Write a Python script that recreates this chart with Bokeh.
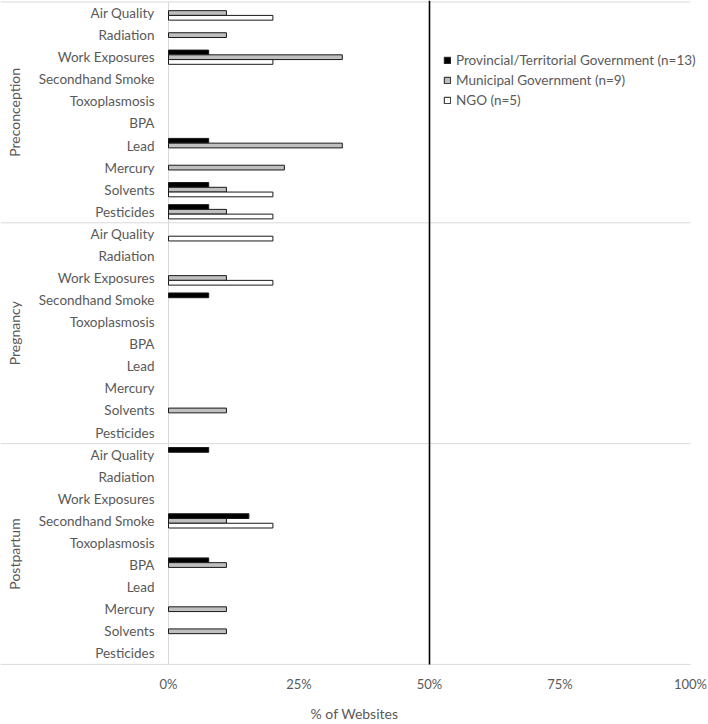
import math

from bokeh.core.properties import value
from bokeh.embed import file_html
from bokeh.models import (ColumnDataSource, FixedTicker, Legend, LegendItem,
                          PrintfTickFormatter, Range1d)
from bokeh.plotting import figure
from bokeh.resources import INLINE

# ---- data -------------------------------------------------------------
stages = ["Preconception", "Pregnancy", "Postpartum"]
topics = ["Air Quality", "Radiation", "Work Exposures", "Secondhand Smoke",
          "Toxoplasmosis", "BPA", "Lead", "Mercury", "Solvents", "Pesticides"]

series_names = ["Provincial/Territorial Government (n=13)",
                "Municipal Government (n=9)",
                "NGO (n=5)"]

# % of websites, one list per stage, in topic order
prov_preconception = [0, 0, 7.7, 0, 0, 0, 7.7, 0, 7.7, 7.7]
prov_pregnancy = [0, 0, 0, 7.7, 0, 0, 0, 0, 0, 0]
prov_postpartum = [7.7, 0, 0, 15.4, 0, 7.7, 0, 0, 0, 0]

muni_preconception = [11.1, 11.1, 33.3, 0, 0, 0, 33.3, 22.2, 11.1, 11.1]
muni_pregnancy = [0, 0, 11.1, 0, 0, 0, 0, 0, 11.1, 0]
muni_postpartum = [0, 0, 0, 11.1, 0, 11.1, 0, 11.1, 11.1, 0]

ngo_preconception = [20.0, 0, 20.0, 0, 0, 0, 0, 0, 20.0, 20.0]
ngo_pregnancy = [20.0, 0, 20.0, 0, 0, 0, 0, 0, 0, 0]
ngo_postpartum = [0, 0, 0, 20.0, 0, 0, 0, 0, 0, 0]

x_ticks = [0, 25, 50, 75, 100]
reference_pct = 50

# ---- styling ----------------------------------------------------------
FONT = "Lato"
TEXT_COLOR = "#595959"
RULE_COLOR = "#d9d9d9"
fills = ["#000000", "#bfbfbf", "#ffffff"]
offsets = [-0.215, 0.0, 0.215]
bar_h = 0.215

FRAME_W, FRAME_H = 708, 668
PX_PER_PCT = 5.22
ZERO_PX = 168
ROW_PX = 22.08
TOP_PX = 1.5

n_rows = len(stages) * len(topics)

p = figure(width=FRAME_W, height=724, frame_width=FRAME_W, frame_height=FRAME_H,
           output_backend="svg", toolbar_location=None,
           x_range=Range1d(-ZERO_PX / PX_PER_PCT, (FRAME_W - ZERO_PX) / PX_PER_PCT),
           y_range=Range1d((FRAME_H - TOP_PX) / ROW_PX, -TOP_PX / ROW_PX),
           y_axis_location=None, min_border=0)
p.xgrid.visible = False
p.ygrid.visible = False
p.outline_line_color = None
p.background_fill_color = "white"
p.border_fill_color = "white"

# group separators and the value axis line
bounds = [i * len(topics) for i in range(len(stages) + 1)]
p.segment(x0=[p.x_range.start] * len(bounds), x1=[100] * len(bounds),
          y0=bounds, y1=bounds, line_color=RULE_COLOR, line_width=1)
p.segment(x0=[0], x1=[0], y0=[0], y1=[n_rows], line_color=RULE_COLOR, line_width=1)

# bars (zero values are left out so no empty outlines are drawn)
all_series = [
    prov_preconception + prov_pregnancy + prov_postpartum,
    muni_preconception + muni_pregnancy + muni_postpartum,
    ngo_preconception + ngo_pregnancy + ngo_postpartum,
]
renderers = []
for vals, fill, off in zip(all_series, fills, offsets):
    ys = [r + 0.5 + off for r, v in enumerate(vals) if v > 0]
    rights = [v for v in vals if v > 0]
    src = ColumnDataSource(dict(y=ys, right=rights))
    r = p.hbar(y="y", right="right", left=0, height=bar_h, source=src,
               fill_color=fill, line_color="#1a1a1a", line_width=1)
    renderers.append(r)

# 50% reference line
p.segment(x0=[reference_pct], x1=[reference_pct], y0=[p.y_range.end], y1=[n_rows],
          line_color="black", line_width=1.6)

# topic labels
label_rows = [r + 0.5 for r in range(n_rows)]
label_text = topics * len(stages)
p.text(x=[0] * n_rows, y=label_rows, text=label_text, x_offset=-14,
       text_align="right", text_baseline="middle",
       text_font=value(FONT), text_font_size="13.5px", text_color=TEXT_COLOR)

# stage labels, rotated
stage_rows = [i * len(topics) + len(topics) / 2 for i in range(len(stages))]
p.text(x=[0] * len(stages), y=stage_rows, text=stages, x_offset=-154,
       angle=math.pi / 2, text_align="center", text_baseline="middle",
       text_font=value(FONT), text_font_size="14px", text_color=TEXT_COLOR)

# x axis
ax = p.xaxis[0]
ax.ticker = FixedTicker(ticks=x_ticks)
ax.formatter = PrintfTickFormatter(format="%d%%")
ax.axis_line_color = None
ax.major_tick_line_color = None
ax.minor_tick_line_color = None
ax.major_tick_out = 0
ax.major_label_standoff = 7
ax.major_label_text_font = FONT
ax.major_label_text_font_size = "13px"
ax.major_label_text_color = TEXT_COLOR
ax.axis_label = "% of Websites"
ax.axis_label_standoff = 10
ax.axis_label_text_font = FONT
ax.axis_label_text_font_size = "14px"
ax.axis_label_text_font_style = "normal"
ax.axis_label_text_color = TEXT_COLOR

# legend
legend = Legend(items=[LegendItem(label=n, renderers=[r]) for n, r in zip(series_names, renderers)],
                location=(443, FRAME_H - 108), orientation="vertical",
                glyph_width=8, glyph_height=8, label_height=16, spacing=4,
                label_standoff=5, padding=0, margin=0,
                border_line_alpha=0, background_fill_alpha=0,
                label_text_font=FONT, label_text_font_size="13.5px",
                label_text_color=TEXT_COLOR)
p.add_layout(legend, "center")

open("out.html", "w").write(file_html(p, INLINE))
